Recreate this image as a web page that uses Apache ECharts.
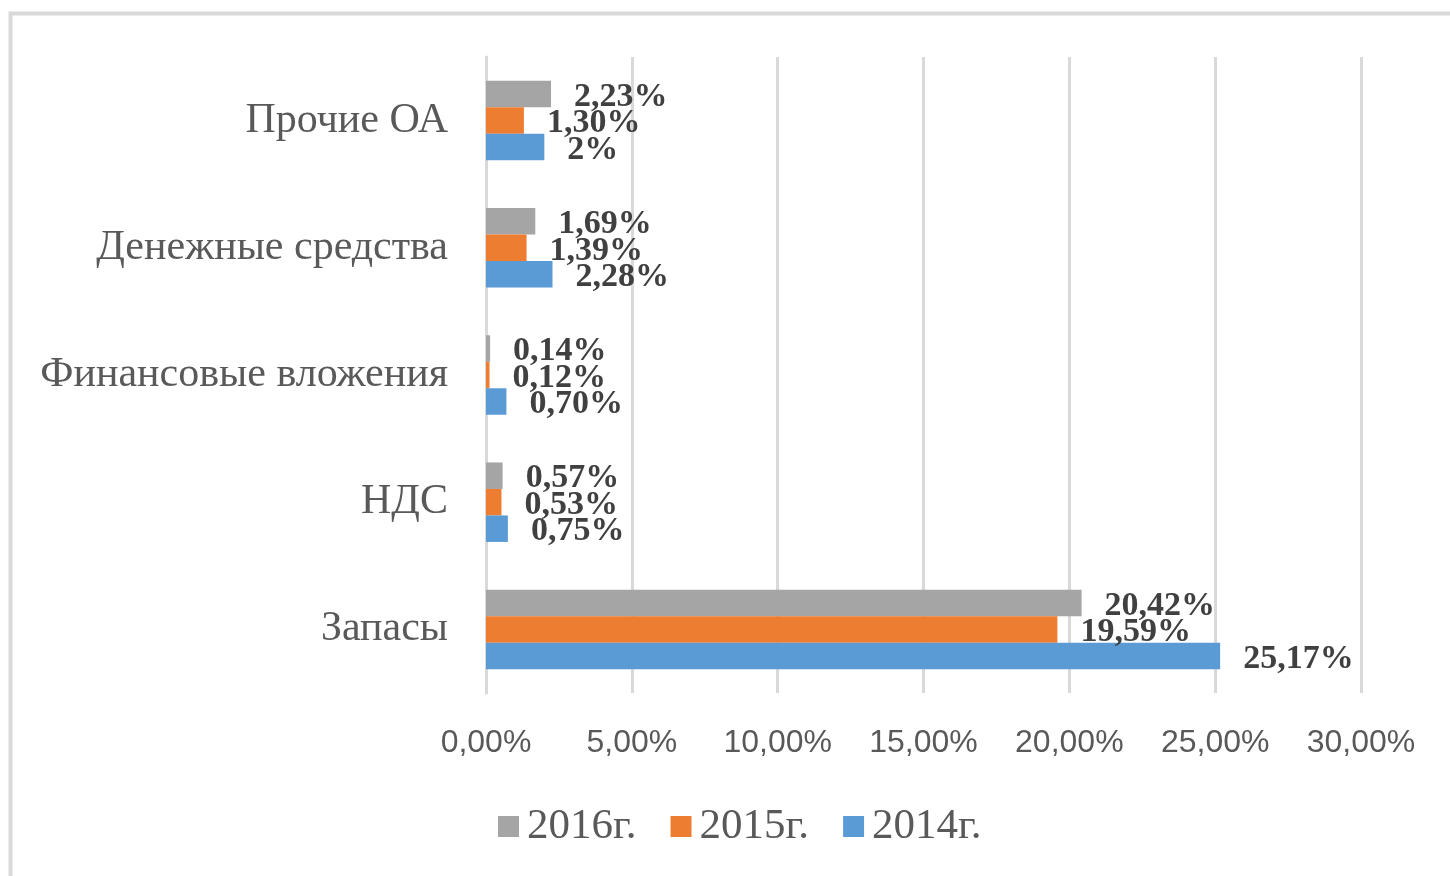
<!DOCTYPE html>
<html>
<head>
<meta charset="utf-8">
<script src="https://cdn.jsdelivr.net/npm/echarts@6/dist/echarts.min.js"></script>
<style>
html,body{margin:0;padding:0;background:#fff;}
#c{width:1450px;height:876px;}
</style>
</head>
<body>
<div id="c"></div>
<script>
const categories = ['Запасы', 'НДС', 'Финансовые вложения', 'Денежные средства', 'Прочие ОА'];
const seriesNames = ['2016г.', '2015г.', '2014г.'];
const v2016 = [20.42, 0.57, 0.14, 1.69, 2.23];
const v2015 = [19.59, 0.53, 0.12, 1.39, 1.30];
const v2014 = [25.17, 0.75, 0.70, 2.28, 2];
const xTicks = [0, 5, 10, 15, 20, 25, 30];
const colors = ['#a5a5a5', '#ed7d31', '#5b9bd5'];

const fmt = v => Number.isInteger(v) ? v + '%' : v.toFixed(2).replace('.', ',') + '%';

const chart = echarts.init(document.getElementById('c'), null, {renderer: 'canvas'});
const data = [v2016, v2015, v2014];
chart.setOption({
  animation: false,
  backgroundColor: '#fff',
  graphic: [{
    type: 'rect', left: 8, top: 11, shape: {width: 1500, height: 1000},
    style: {fill: 'none', stroke: '#d9d9d9', lineWidth: 4}, silent: true
  }],
  grid: {left: 486, right: 89, top: 57, bottom: 183},
  xAxis: {
    type: 'value', min: xTicks[0], max: xTicks[xTicks.length - 1], interval: 5,
    axisLine: {show: false}, axisTick: {show: false},
    splitLine: {lineStyle: {color: '#d9d9d9', width: 3}},
    axisLabel: {
      formatter: v => v.toFixed(2).replace('.', ',') + '%',
      color: '#595959', fontSize: 32, margin: 34,
      fontFamily: '"Liberation Sans Narrow", "Liberation Sans", sans-serif'
    }
  },
  yAxis: {
    type: 'category', data: categories,
    axisLine: {show: true, lineStyle: {color: '#d9d9d9', width: 3}},
    axisTick: {show: false},
    axisLabel: {color: '#595959', fontSize: 42, margin: 38, fontFamily: '"Liberation Serif", serif'}
  },
  legend: {
    left: 493, top: 800, itemWidth: 21, itemHeight: 21, itemGap: 34,
    icon: 'rect', data: seriesNames,
    textStyle: {color: '#595959', fontSize: 43, fontFamily: '"Liberation Serif", serif', padding: [0, 0, 0, 3]}
  },
  series: seriesNames.map((n, i) => ({
    name: n, type: 'bar', data: data[i],
    barGap: '0%', barCategoryGap: '37.5%',
    itemStyle: {color: colors[i]},
    label: {
      show: true, position: 'right', distance: 23, offset: [0, 3],
      formatter: p => fmt(p.value),
      color: '#404040', fontSize: 34, fontWeight: 'bold',
      fontFamily: '"Liberation Serif", serif'
    }
  }))
});
</script>
</body>
</html>
